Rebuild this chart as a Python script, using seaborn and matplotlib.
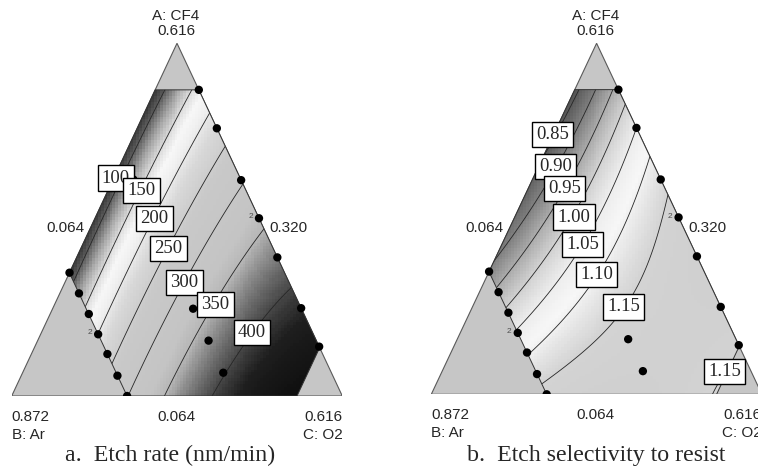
import numpy as np
import pandas as pd
import matplotlib
matplotlib.use("Agg")
import matplotlib.pyplot as plt
import seaborn as sns
from matplotlib.colors import LinearSegmentedColormap
from matplotlib.patches import Polygon

W, H = 758, 472

# ---------------- data (pseudo-component fractions: CF4 = top, O2 = right) ----------------
# design points
pt_cf4 = [0.868, 0.759, 0.612, 0.504, 0.393, 0.249, 0.140, 0.066, 0.157, 0.2475, 0.614,
          0.0, 0.0576, 0.119, 0.175, 0.2325, 0.291, 0.3496]
pt_o2 = [0.132, 0.241, 0.388, 0.496, 0.607, 0.751, 0.860, 0.607, 0.517, 0.425, 0.061,
         0.349, 0.291, 0.230, 0.174, 0.117, 0.058, 0.0]
rep_cf4 = [0.504, 0.175]
rep_o2 = [0.496, 0.174]

# constraint upper bounds of the design region
cf4_max, ar_max, o2_max = 0.868, 0.651, 0.863

# panel a: etch rate, points read on the contour lines
rate_levels = [100, 150, 200, 250, 300, 350, 400]
rate_lvl = [100, 100, 150, 150, 200, 200, 250, 250, 300, 300, 300, 350, 350, 400, 400]
rate_cf4 = [0.47, 0.868, 0.58, 0.868, 0.505, 0.797, 0.42, 0.717, 0.32, 0.0, 0.60, 0.0, 0.473, 0.0, 0.308]
rate_o2 = [0.022, 0.025, 0.10, 0.1105, 0.18, 0.207, 0.262, 0.289, 0.358, 0.353, 0.39, 0.459, 0.530, 0.610, 0.693]
rate_lab = ["100", "150", "200", "250", "300", "350", "400"]
rate_lab_cf4 = [0.618, 0.582, 0.504, 0.419, 0.322, 0.260, 0.180]
rate_lab_o2 = [0.006, 0.102, 0.1805, 0.265, 0.362, 0.486, 0.636]

# panel b: selectivity, points read on the contour lines
sel_levels = [0.85, 0.90, 0.95, 1.00, 1.05, 1.10, 1.15]
sel_lvl = [0.85, 0.85, 0.90, 0.90, 0.95, 0.95, 1.00, 1.05, 1.10, 1.10, 1.15, 1.15, 1.15, 1.15, 1.15]
sel_cf4 = [0.867, 0.740, 0.867, 0.648, 0.867, 0.585, 0.505, 0.426, 0.341, 0.115, 0.249, 0.568, 0.031, 0.066, 0.0]
sel_o2 = [0.031, 0.0, 0.064, 0.053, 0.098, 0.111, 0.179, 0.245, 0.329, 0.234, 0.456, 0.438, 0.329, 0.854, 0.856]
sel_lab = ["0.85", "0.90", "0.95", "1.00", "1.05", "1.10", "1.15", "1.15"]
sel_lab_cf4 = [0.740, 0.648, 0.5855, 0.505, 0.426, 0.341, 0.249, 0.0655]
sel_lab_o2 = [-0.004, 0.053, 0.111, 0.179, 0.245, 0.329, 0.4565, 0.854]

# grey shading stops (value, grey level)
rate_stop_v = [30, 80, 100, 125, 150, 170, 190, 220, 260, 330, 350, 375, 400, 420, 450, 520]
rate_stop_g = [0.15, 0.22, 0.38, 0.66, 0.87, 0.97, 0.94, 0.85, 0.79, 0.77, 0.72, 0.50, 0.28, 0.12, 0.05, 0.04]
sel_stop_v = [0.70, 0.80, 0.85, 0.90, 0.95, 1.00, 1.05, 1.09, 1.12, 1.15, 1.25]
sel_stop_g = [0.18, 0.25, 0.36, 0.50, 0.67, 0.82, 0.93, 0.97, 0.90, 0.83, 0.80]

# ---------------- helpers ----------------
def cart(cf4, o2):
    cf4 = np.asarray(cf4, float)
    o2 = np.asarray(o2, float)
    return o2 + cf4 / 2.0, cf4


def basis(a, c):
    b = 1.0 - a - c
    return np.column_stack([a, b, c, a * b, a * c, b * c, a * b * c])


def fit(lvl, a, c):
    X = basis(np.asarray(a, float), np.asarray(c, float))
    coef, *_ = np.linalg.lstsq(X, np.asarray(lvl, float), rcond=None)
    return coef


def gray_cmap(sv, sg):
    v0, v1 = sv[0], sv[-1]
    return (LinearSegmentedColormap.from_list(
        "g", [((v - v0) / (v1 - v0), (g, g, g)) for v, g in zip(sv, sg)]), v0, v1)


sns.set_theme(style="white")
plt.rcParams["font.family"] = ["Liberation Sans", "DejaVu Sans"]

fig = plt.figure(figsize=(W / 100, H / 100), dpi=100)


def ptext(x, y, s, **kw):
    fig.text(x / W, 1 - y / H, s, **kw)


def panel(rect, lvl, a, c, levels, labs, lab_a, lab_c, sv, sg):
    ax = fig.add_axes(rect)
    ax.set_xlim(0, 1)
    ax.set_ylim(0, 1)
    ax.axis("off")
    tri = Polygon([(0, 0), (1, 0), (0.5, 1)], closed=True, facecolor=(0.775,) * 3,
                  edgecolor=(0.35,) * 3, lw=0.8, zorder=1)
    ax.add_patch(tri)
    ra = [cf4_max, cf4_max, 1 - o2_max, 0, 0, 1 - ar_max]
    rc = [0, 1 - cf4_max, o2_max, o2_max, 1 - ar_max, 0]
    rx, ry = cart(ra, rc)
    region = Polygon(np.column_stack([rx, ry]), closed=True, facecolor="none",
                     edgecolor=(0.2,) * 3, lw=0.7, zorder=4)
    ax.add_patch(region)

    coef = fit(lvl, a, c)
    cmap, v0, v1 = gray_cmap(sv, sg)
    nx, ny = 112, 120
    gx = (np.arange(nx) + 0.5) / nx
    gy = (np.arange(ny) + 0.5) / ny
    GX, GY = np.meshgrid(gx, gy)
    Z = (basis(GY.ravel(), (GX - GY / 2).ravel()) @ coef).reshape(GX.shape)
    im = ax.imshow(Z, extent=(0, 1, 0, 1), origin="lower", aspect="auto", cmap=cmap,
                   vmin=v0, vmax=v1, interpolation="nearest", zorder=2)
    im.set_clip_path(region)

    fx = np.linspace(0, 1, 500)
    FX, FY = np.meshgrid(fx, fx)
    FZ = (basis(FY.ravel(), (FX - FY / 2).ravel()) @ coef).reshape(FX.shape)
    cs = ax.contour(FX, FY, FZ, levels=levels, colors=[(0.15,) * 3], linewidths=0.6, zorder=3)
    cs.set_clip_path(region)

    px, py = cart(pt_cf4, pt_o2)
    df = pd.DataFrame({"x": px, "y": py})
    sns.scatterplot(data=df, x="x", y="y", ax=ax, color="black", s=36, edgecolor="none",
                    legend=False, zorder=5)
    ax.set_xlabel("")
    ax.set_ylabel("")
    qx, qy = cart(rep_cf4, rep_o2)
    for x, y in zip(qx, qy):
        ax.annotate("2", (x, y), xytext=(-4.5, 1), textcoords="offset points", ha="right",
                    va="center", fontsize=6, color=(0.3,) * 3, zorder=5)

    lx, ly = cart(lab_a, lab_c)
    for x, y, s in zip(lx, ly, labs):
        ax.text(x, y, s, ha="center", va="center", fontsize=13.5, family="Liberation Serif",
                zorder=6, bbox=dict(boxstyle="square,pad=0.22", fc="white", ec="black", lw=1.0))
    return ax


panel([11.7 / W, 76 / H, 330.6 / W, 352.7 / H], rate_lvl, rate_cf4, rate_o2, rate_levels,
      rate_lab, rate_lab_cf4, rate_lab_o2, rate_stop_v, rate_stop_g)
panel([431.3 / W, 77.7 / H, 330.6 / W, 351 / H], sel_lvl, sel_cf4, sel_o2, sel_levels,
      sel_lab, sel_lab_cf4, sel_lab_o2, sel_stop_v, sel_stop_g)

fs = 11
for dx, dy, cx, cap in [(0, 0, 170, "a.  Etch rate (nm/min)"),
                        (419.6, -1.7, 596, "b.  Etch selectivity to resist")]:
    ptext(176 + dx, 15.5, "A: CF4", ha="center", va="center", fontsize=fs)
    ptext(176 + dx, 31, "0.616", ha="center", va="center", fontsize=fs)
    ptext(65 + dx, 228, "0.064", ha="center", va="center", fontsize=fs)
    ptext(288 + dx, 228, "0.320", ha="center", va="center", fontsize=fs)
    ptext(11.7 + dx, 416.7 + dy, "0.872", ha="left", va="center", fontsize=fs)
    ptext(11.7 + dx, 435 + dy, "B: Ar", ha="left", va="center", fontsize=fs)
    ptext(176 + dx, 416.7 + dy, "0.064", ha="center", va="center", fontsize=fs)
    ptext(342.3 + dx, 416.7 + dy, "0.616", ha="right", va="center", fontsize=fs)
    ptext(342.3 + dx, 435 + dy, "C: O2", ha="right", va="center", fontsize=fs)
    ptext(cx, 455, cap, ha="center", va="center", fontsize=17.2, family="Liberation Serif")

fig.savefig("out.png", dpi=100)
